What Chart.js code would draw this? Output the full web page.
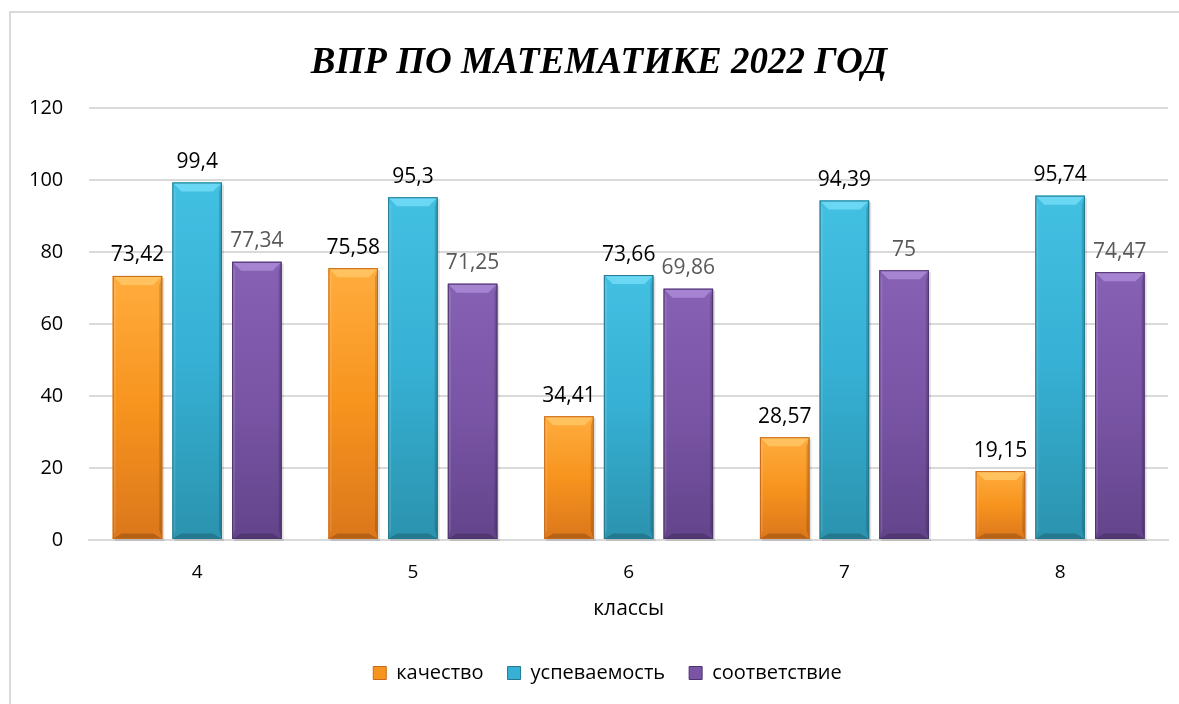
<!DOCTYPE html>
<html>
<head>
<meta charset="utf-8">
<script src="https://cdn.jsdelivr.net/npm/chart.js@4.4.1/dist/chart.umd.min.js"></script>
<style>
  html, body { margin: 0; padding: 0; background: #fff; overflow: hidden; }
  #wrap { position: absolute; left: 0; top: 0; width: 1179px; height: 704px; }
</style>
</head>
<body>
<div id="wrap"><canvas id="myChart"></canvas></div>
<script>
const klassy = ['4', '5', '6', '7', '8'];
const kachestvo = [73.42, 75.58, 34.41, 28.57, 19.15];
const uspevaemost = [99.4, 95.3, 73.66, 94.39, 95.74];
const sootvetstvie = [77.34, 71.25, 69.86, 75, 74.47];
const yTicks = [0, 20, 40, 60, 80, 100, 120];

const palette = [
    { light: '#ffac3e', mid: '#f7941e', dark: '#dc771b', top: '#ffc25e', edge: '#c8681a', label: '#000000' },
    { light: '#42c0e2', mid: '#36b0d4', dark: '#2b93ae', top: '#6ad8f4', edge: '#22788f', label: '#000000' },
    { light: '#8661b4', mid: '#7a55a6', dark: '#63448b', top: '#a784d2', edge: '#4e346f', label: '#595959' }
];

const fmt = v => String(v).replace('.', ',');

// chart frame (only left and top edges are inside the picture)
const framePlugin = {
    id: 'frame',
    beforeDraw(chart) {
        const ctx = chart.ctx;
        ctx.save();
        ctx.strokeStyle = '#d9d9d9';
        ctx.lineWidth = 2;
        ctx.beginPath();
        ctx.moveTo(10, chart.height);
        ctx.lineTo(10, 12);
        ctx.lineTo(chart.width, 12);
        ctx.stroke();
        ctx.restore();
    },
    afterLayout(chart) {
        // nudge title and legend to the middle of the frame
        chart.titleBlock.left += 27;
        chart.legend.left += 44;
    }
};

// bevelled 3D-ish bars drawn over the library's bar elements
const bevelPlugin = {
    id: 'bevel',
    afterDatasetsDraw(chart) {
        const ctx = chart.ctx;
        chart.data.datasets.forEach((ds, i) => {
            const c = palette[i];
            chart.getDatasetMeta(i).data.forEach(bar => {
                const l = bar.x - bar.width / 2, r = bar.x + bar.width / 2;
                const t = bar.y, b = bar.base;
                const d = Math.min(9, (b - t) / 2);
                ctx.save();
                // shadow
                ctx.fillStyle = 'rgba(0,0,0,0.12)';
                ctx.fillRect(l + 2, t + 2, r - l, b - t);
                const g = ctx.createLinearGradient(0, t, 0, b);
                g.addColorStop(0, c.light);
                g.addColorStop(0.5, c.mid);
                g.addColorStop(1, c.dark);
                ctx.fillStyle = g;
                ctx.fillRect(l, t, r - l, b - t);
                // top bevel
                ctx.fillStyle = c.top;
                ctx.beginPath();
                ctx.moveTo(l, t); ctx.lineTo(r, t); ctx.lineTo(r - d, t + d); ctx.lineTo(l + d, t + d);
                ctx.closePath(); ctx.fill();
                // right bevel
                ctx.fillStyle = 'rgba(0,0,0,0.15)';
                ctx.beginPath();
                ctx.moveTo(r, t); ctx.lineTo(r, b); ctx.lineTo(r - 3, b - d); ctx.lineTo(r - 3, t + d);
                ctx.closePath(); ctx.fill();
                // left bevel
                ctx.fillStyle = 'rgba(255,255,255,0.12)';
                ctx.beginPath();
                ctx.moveTo(l, t); ctx.lineTo(l, b); ctx.lineTo(l + 3, b - d); ctx.lineTo(l + 3, t + d);
                ctx.closePath(); ctx.fill();
                // bottom bevel
                ctx.fillStyle = 'rgba(0,0,0,0.18)';
                ctx.beginPath();
                ctx.moveTo(l, b); ctx.lineTo(r, b); ctx.lineTo(r - d, b - d * 0.6); ctx.lineTo(l + d, b - d * 0.6);
                ctx.closePath(); ctx.fill();
                ctx.strokeStyle = c.edge;
                ctx.lineWidth = 1;
                ctx.strokeRect(l + 0.5, t + 0.5, r - l - 1, b - t - 1);
                ctx.restore();
            });
        });
    }
};

const labelPlugin = {
    id: 'valueLabels',
    afterDatasetsDraw(chart) {
        const ctx = chart.ctx;
        ctx.save();
        ctx.font = '21px "Open Sans", sans-serif';
        ctx.textAlign = 'center';
        ctx.textBaseline = 'bottom';
        chart.data.datasets.forEach((ds, i) => {
            ctx.fillStyle = palette[i].label;
            chart.getDatasetMeta(i).data.forEach((bar, j) => {
                ctx.fillText(fmt(ds.data[j]), bar.x, bar.y - 10);
            });
        });
        ctx.restore();
    }
};

const ctx = document.getElementById('myChart').getContext('2d');
const myChart = new Chart(ctx, {
    type: 'bar',
    data: {
        labels: klassy,
        datasets: [
            { label: 'качество', data: kachestvo, backgroundColor: palette[0].mid },
            { label: 'успеваемость', data: uspevaemost, backgroundColor: palette[1].mid },
            { label: 'соответствие', data: sootvetstvie, backgroundColor: palette[2].mid }
        ]
    },
    plugins: [framePlugin, bevelPlugin, labelPlugin],
    options: {
        responsive: true,
        maintainAspectRatio: false,
        animation: false,
        datasets: { bar: { categoryPercentage: 0.83, barPercentage: 0.83 } },
        layout: { padding: { left: 3, right: 11, top: 20, bottom: 11 } },
        plugins: {
            title: {
                display: true,
                text: 'ВПР ПО МАТЕМАТИКЕ 2022 ГОД',
                color: '#000',
                font: { family: '"Liberation Serif", "Times New Roman", serif', size: 37, style: 'italic', weight: 'bold' },
                padding: { top: 21, bottom: 23 }
            },
            legend: {
                position: 'bottom',
                labels: {
                    color: '#000',
                    font: { family: '"Open Sans", sans-serif', size: 20 },
                    boxWidth: 13, boxHeight: 13, padding: 24,
                    generateLabels(chart) {
                        return chart.data.datasets.map((ds, i) => ({
                            text: ds.label, fillStyle: palette[i].mid, strokeStyle: palette[i].edge,
                            lineWidth: 1, datasetIndex: i
                        }));
                    }
                }
            },
            tooltip: { enabled: false }
        },
        scales: {
            x: {
                grid: { display: false },
                border: { color: '#d9d9d9', width: 2 },
                ticks: { color: '#000', font: { family: '"Open Sans", sans-serif', size: 19 }, padding: 13 },
                title: { display: true, text: 'классы', color: '#000', font: { family: '"Open Sans", sans-serif', size: 21 }, padding: { top: 0, bottom: 17 } }
            },
            y: {
                min: 0, max: 120,
                afterBuildTicks(axis) { axis.ticks = yTicks.map(v => ({ value: v })); },
                grid: { color: '#d9d9d9', lineWidth: 2, drawTicks: false },
                border: { display: false },
                ticks: { color: '#000', font: { family: '"Open Sans", sans-serif', size: 20 }, padding: 26 }
            }
        }
    }
});
</script>
</body>
</html>
